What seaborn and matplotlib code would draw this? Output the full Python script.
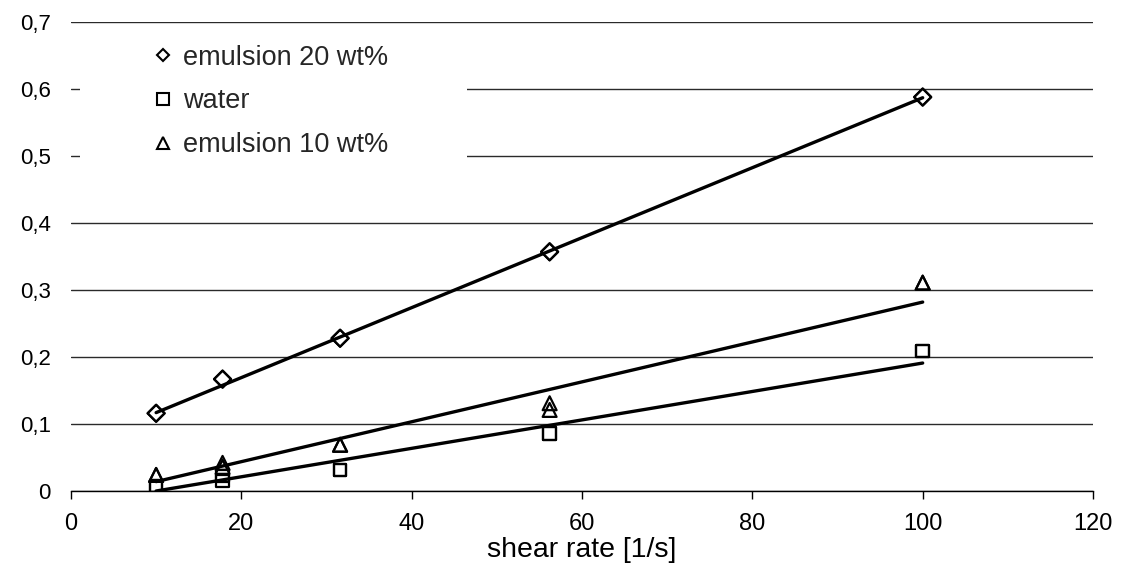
import matplotlib
matplotlib.use("Agg")
import matplotlib.pyplot as plt
from matplotlib.lines import Line2D
from matplotlib.patches import Rectangle
import seaborn as sns
import pandas as pd

# shear rates [1/s]
shear = [10, 17.8, 31.6, 56.2, 100]

# measured values, two replicates each (overlapping where equal)
em20_a = [0.116, 0.167, 0.228, 0.357, 0.588]
em20_b = [0.116, 0.167, 0.228, 0.357, 0.588]
water_a = [0.0075, 0.022, 0.031, 0.086, 0.209]
water_b = [0.0075, 0.015, 0.031, 0.086, 0.209]
em10_a = [0.024, 0.042, 0.069, 0.131, 0.311]
em10_b = [0.024, 0.036, 0.069, 0.121, 0.311]

# linear trendlines (values at first and last shear rate)
fit_x = [10, 100]
em20_fit = [0.117, 0.587]
water_fit = [0.0, 0.191]
em10_fit = [0.014, 0.282]

labels = ["emulsion 20 wt%", "water", "emulsion 10 wt%"]
markers = ["D", "s", "^"]
msizes = [75, 80, 100]

yticks = [0, 0.1, 0.2, 0.3, 0.4, 0.5, 0.6, 0.7]
xticks = [0, 20, 40, 60, 80, 100, 120]

sns.set_theme(style="white")
plt.rcParams["font.family"] = ["Liberation Sans", "DejaVu Sans"]

fig = plt.figure(figsize=(11.28, 5.72), dpi=100)
ax = fig.add_axes([0.0629, 0.1416, 0.969 - 0.0629, 0.9615 - 0.1416])

series = [(em20_a, em20_b, em20_fit), (water_a, water_b, water_fit), (em10_a, em10_b, em10_fit)]
for (ya, yb, fit), m, s in zip(series, markers, msizes):
    pts = pd.DataFrame({"x": shear + shear, "y": ya + yb})
    sns.lineplot(x=fit_x, y=fit, ax=ax, color="black", lw=2.4, zorder=3)
    sns.scatterplot(data=pts, x="x", y="y", ax=ax, marker=m, s=s,
                    facecolor="none", edgecolor="black", linewidth=1.6, zorder=4)

ax.set_xlim(0, 120)
ax.set_ylim(0, 0.7)
ax.set_xticks(xticks)
ax.set_yticks(yticks)
ax.set_yticklabels([("%g" % v).replace(".", ",") for v in yticks])
ax.set_xticklabels([str(v) for v in xticks])
ax.yaxis.grid(True, color="#2a2a2a", lw=1.0)
ax.set_axisbelow(True)
for side in ["left", "right", "top"]:
    ax.spines[side].set_visible(False)
ax.spines["bottom"].set_color("black")
ax.spines["bottom"].set_linewidth(1.0)
ax.tick_params(axis="x", length=6, width=1, color="black", direction="out", bottom=True,
               labelsize=17, pad=10, labelcolor="black")
ax.tick_params(axis="y", length=0, labelsize=16, pad=14.5, labelcolor="black")
ax.set_xlabel("shear rate [1/s]", fontsize=20.5, color="black", labelpad=1)
ax.set_ylabel("")

# white block behind the legend hides the gridlines there
ax.add_patch(Rectangle((0.0088, 0.66), 0.3787, 0.32, transform=ax.transAxes,
                       facecolor="white", edgecolor="none", zorder=1))

handles = [Line2D([], [], ls="none", marker=m, mfc="none", mec="black", mew=1.5,
                  ms=8 if m != "D" else 6.5) for m in markers]
leg = ax.legend(handles, labels, bbox_to_anchor=(0.0794, 0.952), loc="upper left",
                frameon=False, fontsize=19.5, labelspacing=0.66, handlelength=0.8,
                handletextpad=0.33, borderpad=0, borderaxespad=0)
leg.set_zorder(5)

fig.savefig("out.png", dpi=100)
